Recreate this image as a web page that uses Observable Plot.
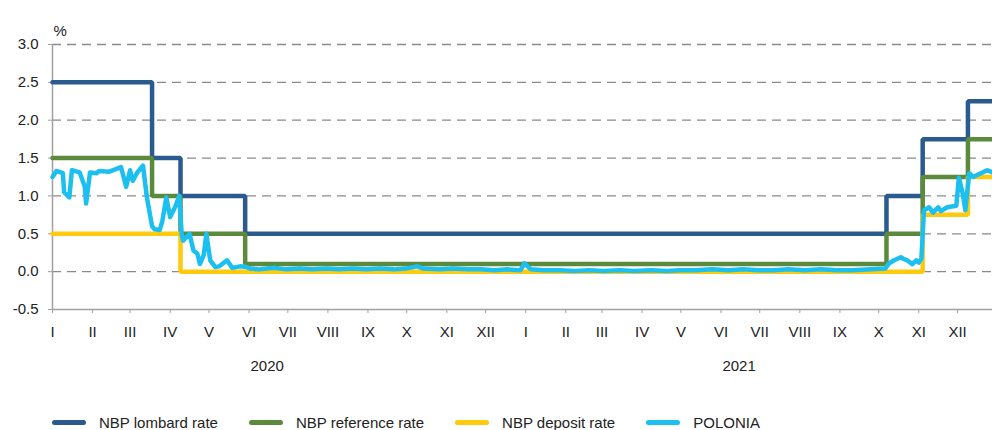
<!DOCTYPE html>
<html>
<head>
<meta charset="utf-8">
<script src="https://cdn.jsdelivr.net/npm/d3@7"></script>
<script src="https://cdn.jsdelivr.net/npm/@observablehq/plot@0.6"></script>
<style>
  body { margin: 0; background: white; font-family: "Liberation Sans", Arial, sans-serif; }
  #wrap { position: relative; width: 992px; height: 430px; }
  #legend { position: absolute; left: 52px; top: 414px; display: flex; align-items: center; font-size: 15px; color: #222; }
  .item { display: flex; align-items: center; margin-right: 31px; }
  .sw { width: 34px; height: 5px; border-radius: 3px; margin-right: 13px; }
</style>
</head>
<body>
<div id="wrap"><div id="chart"></div><div id="legend"></div></div>
<script>
// ---- data ----
const seriesNames = ["NBP lombard rate", "NBP reference rate", "NBP deposit rate", "POLONIA"];
const seriesColors = ["#2b5a8e", "#5b8a3c", "#ffc90e", "#1bbff0"];

const rateDates = ["2020-01-01", "2020-03-18", "2020-04-09", "2020-05-29", "2021-10-07", "2021-11-04", "2021-12-09", "2021-12-28"];
const lombardValues = [2.5, 1.5, 1.0, 0.5, 1.0, 1.75, 2.25, 2.25];
const referenceValues = [1.5, 1.0, 0.5, 0.1, 0.5, 1.25, 1.75, 1.75];

const depositDates = ["2020-01-01", "2020-04-09", "2021-11-04", "2021-12-09", "2021-12-28"];
const depositValues = [0.5, 0.0, 0.75, 1.25, 1.25];

const poloniaDates = [
  "2020-01-01","2020-01-04","2020-01-09","2020-01-10","2020-01-14","2020-01-16","2020-01-22","2020-01-26","2020-01-27","2020-01-30",
  "2020-02-04","2020-02-06","2020-02-14","2020-02-20","2020-02-23","2020-02-27","2020-03-01","2020-03-03","2020-03-07","2020-03-11",
  "2020-03-14","2020-03-18","2020-03-20","2020-03-24","2020-03-26","2020-03-29","2020-04-01","2020-04-05","2020-04-08","2020-04-10",
  "2020-04-11","2020-04-16","2020-04-19","2020-04-22","2020-04-24","2020-04-27","2020-04-29","2020-05-02","2020-05-06","2020-05-09",
  "2020-05-15","2020-05-19","2020-05-25","2020-05-30","2020-06-02","2020-06-09","2020-06-20","2020-06-30","2020-07-10","2020-07-20",
  "2020-07-31","2020-08-10","2020-08-20","2020-08-31","2020-09-10","2020-09-21","2020-09-30","2020-10-09","2020-10-14","2020-10-26",
  "2020-11-06","2020-11-17","2020-11-27","2020-12-08","2020-12-18","2020-12-28","2020-12-31","2021-01-05","2021-01-15","2021-01-27",
  "2021-02-08","2021-02-19","2021-03-02","2021-03-15","2021-03-26","2021-04-08","2021-04-20","2021-04-30","2021-05-12","2021-05-25",
  "2021-06-07","2021-06-18","2021-06-30","2021-07-12","2021-07-23","2021-08-05","2021-08-17","2021-08-30","2021-09-10","2021-09-25",
  "2021-10-06","2021-10-09","2021-10-13","2021-10-18","2021-10-20","2021-10-23","2021-10-27","2021-10-30","2021-11-01","2021-11-03",
  "2021-11-05","2021-11-09","2021-11-12","2021-11-16","2021-11-18","2021-11-23","2021-11-30","2021-12-02","2021-12-05","2021-12-07",
  "2021-12-10","2021-12-13","2021-12-19","2021-12-24","2021-12-28"
];
const poloniaValues = [
  1.25, 1.33, 1.30, 1.05, 0.98, 1.34, 1.31, 1.12, 0.90, 1.31,
  1.30, 1.33, 1.32, 1.36, 1.38, 1.12, 1.34, 1.20, 1.32, 1.40,
  0.98, 0.60, 0.56, 0.55, 0.67, 0.98, 0.72, 0.86, 1.00, 0.48,
  0.41, 0.50, 0.28, 0.24, 0.10, 0.22, 0.50, 0.15, 0.06, 0.07,
  0.15, 0.05, 0.07, 0.06, 0.04, 0.03, 0.05, 0.03, 0.04, 0.03,
  0.04, 0.03, 0.04, 0.03, 0.04, 0.03, 0.04, 0.07, 0.04, 0.03,
  0.04, 0.03, 0.03, 0.02, 0.03, 0.02, 0.11, 0.03, 0.02, 0.02,
  0.01, 0.02, 0.01, 0.02, 0.01, 0.02, 0.01, 0.02, 0.02, 0.03,
  0.02, 0.03, 0.02, 0.02, 0.03, 0.02, 0.03, 0.02, 0.02, 0.03,
  0.04, 0.11, 0.15, 0.19, 0.17, 0.15, 0.10, 0.15, 0.12, 0.17,
  0.81, 0.85, 0.78, 0.85, 0.80, 0.85, 0.87, 1.24, 1.03, 0.81,
  1.30, 1.25, 1.30, 1.34, 1.31
];

const yTicks = [-0.5, 0.0, 0.5, 1.0, 1.5, 2.0, 2.5, 3.0];
const monthLabels = ["I","II","III","IV","V","VI","VII","VIII","IX","X","XI","XII"];
const yearLabels = [{date: "2020-06-15", label: "2020"}, {date: "2021-06-15", label: "2021"}];
const xStart = "2020-01-01", xEnd = "2021-12-28";

// ---- build ----
const toRows = (dates, values, name) => dates.map((d, i) => ({date: new Date(d), value: values[i], series: name}));
const lombard = toRows(rateDates, lombardValues, seriesNames[0]);
const reference = toRows(rateDates, referenceValues, seriesNames[1]);
const deposit = toRows(depositDates, depositValues, seriesNames[2]);
const polonia = toRows(poloniaDates, poloniaValues, seriesNames[3]);
const monthTicks = d3.utcMonth.range(new Date(xStart), new Date("2022-01-01"));

const chart = Plot.plot({
  width: 992,
  height: 390,
  marginLeft: 52,
  marginRight: 0,
  marginTop: 44,
  marginBottom: 81,
  style: {fontFamily: "'Liberation Sans', Arial, sans-serif", fontSize: "15px", background: "white", color: "#222", overflow: "visible"},
  x: {type: "utc", domain: [new Date(xStart), new Date(xEnd)], axis: null},
  y: {domain: [-0.5, 3.0], axis: null},
  marks: [
    Plot.gridY(yTicks.filter(d => d > -0.5), {stroke: "#8a8a8a", strokeOpacity: 1, strokeWidth: 1.3, strokeDasharray: "9,6"}),
    Plot.ruleY([-0.5], {stroke: "#a0a0a0", strokeWidth: 1.5}),
    Plot.ruleX([new Date(xStart)], {stroke: "#a0a0a0", strokeWidth: 1.5}),
    Plot.axisY(yTicks, {tickSize: 4, tickPadding: 10, tickFormat: d => d.toFixed(1), stroke: "#a0a0a0", fill: "#222", label: null, fontSize: 15}),
    Plot.axisX(monthTicks, {tickSize: 4, tickPadding: 13, tickFormat: d => monthLabels[d.getUTCMonth()], stroke: "#a0a0a0", fill: "#222", label: null, fontSize: 15}),
    Plot.text(yearLabels, {x: d => new Date(d.date), text: "label", frameAnchor: "bottom", dy: 61, fill: "#222", fontSize: 15}),
    Plot.text(["%"], {frameAnchor: "top-left", textAnchor: "start", dx: 1, dy: -19, fill: "#222", fontSize: 15}),
    Plot.line(lombard, {x: "date", y: "value", curve: "step-after", stroke: seriesColors[0], strokeWidth: 4.5, strokeLinejoin: "miter"}),
    Plot.line(reference, {x: "date", y: "value", curve: "step-after", stroke: seriesColors[1], strokeWidth: 4.5, strokeLinejoin: "miter"}),
    Plot.line(deposit, {x: "date", y: "value", curve: "step-after", stroke: seriesColors[2], strokeWidth: 4.5, strokeLinejoin: "miter"}),
    Plot.line(polonia, {x: "date", y: "value", stroke: seriesColors[3], strokeWidth: 4.5, strokeLinejoin: "round", strokeLinecap: "round"})
  ]
});
document.getElementById("chart").appendChild(chart);

const legend = document.getElementById("legend");
seriesNames.forEach((name, i) => {
  const item = document.createElement("div");
  item.className = "item";
  item.innerHTML = `<span class="sw" style="background:${seriesColors[i]}"></span><span>${name}</span>`;
  legend.appendChild(item);
});
</script>
</body>
</html>
